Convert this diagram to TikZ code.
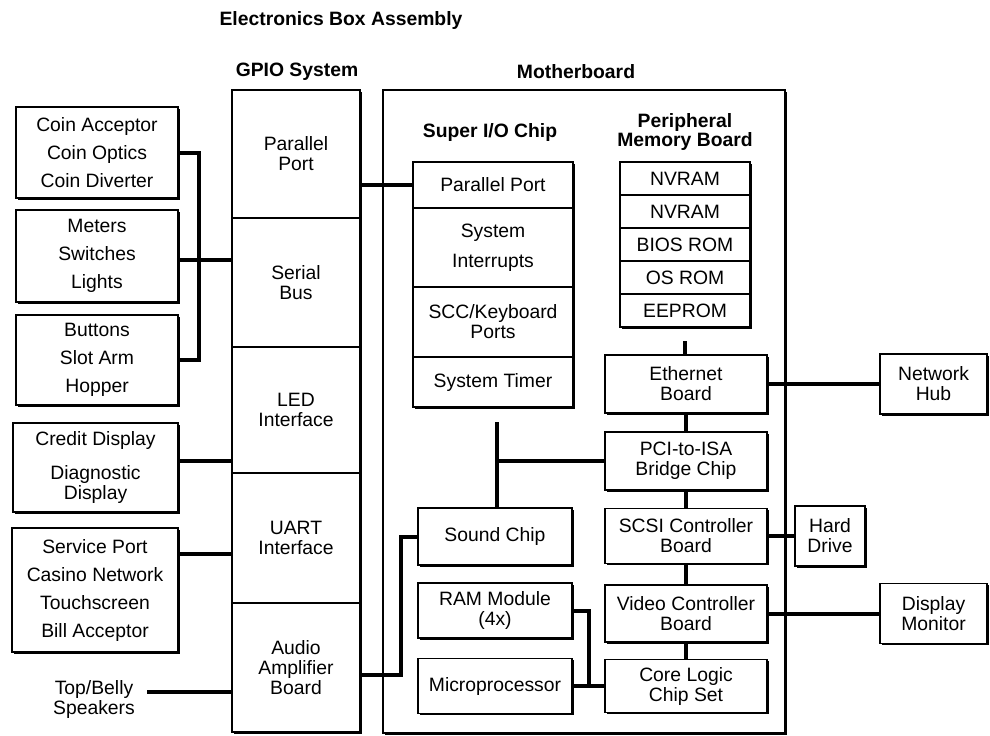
\documentclass[tikz,border=0pt]{standalone}
\usepackage{fontspec}
\setmainfont{Liberation Sans}
\usetikzlibrary{shadows,calc}
\newcommand\mytight{\fontsize{14.5}{15}\selectfont}
\newcommand\mylist{\fontsize{14.5}{21}\selectfont}
\newcommand\mybold{\fontsize{14.5}{14}\selectfont\bfseries}
\begin{document}
\begin{tikzpicture}[x=0.75pt,y=-0.75pt,
  box/.style={draw, line width=1.2pt, fill=white, inner sep=0pt, align=center, font=\mytight,
    drop shadow={shadow xshift=1.3pt, shadow yshift=-1.3pt, fill=black, opacity=1}},
  wh/.style 2 args={minimum width=#1*0.75pt, minimum height=#2*0.75pt},
  list/.style={font=\mylist},
  tit/.style={align=center, font=\mybold, inner sep=0pt},
  txt/.style={align=center, font=\mytight, inner sep=0pt},
  conn/.style={line width=3pt}]
\useasboundingbox (0,0) rectangle (990,736);

% titles
\node[tit] (title) at (341,20) {Electronics Box Assembly};
\node[tit] (gpiol) at (297,72) {GPIO System};
\node[tit] (mbl) at (576,72) {Motherboard};

% motherboard frame
\node[box, wh={402}{643}] (mb) at (584,411.5) {};

% left devices
\node[box, list, wh={162}{91}] (coin) at (97,152.5) {Coin Acceptor\\Coin Optics\\Coin Diverter};
\node[box, list, wh={162}{92}] (meters) at (97,256) {Meters\\Switches\\Lights};
\node[box, list, wh={162}{90}] (buttons) at (97,360) {Buttons\\Slot Arm\\Hopper};
\node[box, wh={165}{89}] (credit) at (95.5,467.5) {Credit Display\\[11pt]Diagnostic\\Display};
\node[box, list, wh={166}{124}] (service) at (95,590) {Service Port\\Casino Network\\Touchscreen\\Bill Acceptor};
\node[txt] (spk) at (94,699) {Top/Belly\\Speakers};

% connectors (drawn before boxes)
\draw[conn] (coin.east) -- ++(20,0) |- (buttons.east);
\coordinate (mj) at ([yshift=-3pt]meters.east);
\coordinate (cr) at ([yshift=5pt]credit.east);
\coordinate (sv) at ([yshift=27pt]service.east);
\coordinate (spkl) at (147,692);

% GPIO column
\node[box, wh={128}{128}] (gpp) at (296,154) {Parallel\\Port};
\node[box, wh={128}{129}] (gser) at (296,282.5) {Serial\\Bus};
\node[box, wh={128}{126}] (gled) at (296,410) {LED\\Interface};
\node[box, wh={128}{130}] (guart) at (296,538) {UART\\Interface};
\node[box, wh={128}{129}] (gaud) at (296,667.5) {Audio\\Amplifier\\Board};

\draw[conn] (mj) -- (mj -| gser.west);
\draw[conn] (cr) -- (cr -| gled.west);
\draw[conn] (sv) -- (sv -| guart.west);
\draw[conn] (spkl) -- (spkl -| gaud.west);

% Super I/O chip
\node[tit] (siol) at (490,132) {Super I/O Chip};
\node[box, wh={160}{46}] (spp) at (493,185) {Parallel Port};
\node[box, wh={160}{79}] (sint) at (493,247.5) {System\\[7.5pt]Interrupts};
\node[box, wh={160}{70}] (sscc) at (493,322) {SCC/Keyboard\\Ports};
\node[box, wh={160}{50}] (stim) at (493,382) {System Timer};
\draw[conn] (spp.west) -- (spp.west -| gpp.east);

% Peripheral memory board
\node[tit] (pmbl) at (685,132) {Peripheral\\Memory Board};
\node[box, wh={130}{33}] (nv1) at (685,178.5) {NVRAM};
\node[box, wh={130}{33}] (nv2) at (685,211.5) {NVRAM};
\node[box, wh={130}{33}] (bios) at (685,244.5) {BIOS ROM};
\node[box, wh={130}{33}] (osrom) at (685,277.5) {OS ROM};
\node[box, wh={130}{33}] (ee) at (685,310.5) {EEPROM};

% bus chain
\node[box, wh={162}{58}] (eth) at (686,384) {Ethernet\\Board};
\node[box, wh={162}{58}] (pci) at (686,461) {PCI-to-ISA\\Bridge Chip};
\node[box, wh={162}{55}] (scsi) at (686,536) {SCSI Controller\\Board};
\node[box, wh={162}{57}] (video) at (686,613.5) {Video Controller\\Board};
\node[box, wh={162}{53}] (core) at (686,686) {Core Logic\\Chip Set};

\coordinate (memgap) at ([yshift=-10pt]ee.south);
\draw[conn] (memgap) -- (memgap |- eth.north);
\draw[conn] (eth.south) -- (pci.north);
\draw[conn] (pci.south) -- (scsi.north);
\draw[conn] (scsi.south) -- (video.north);
\draw[conn] (video.south) -- (core.north);

% lower left of motherboard
\node[box, wh={154}{57}] (sound) at (495,536.5) {Sound Chip};
\node[box, wh={154}{55}] (ram) at (495,610.5) {RAM Module\\(4x)};
\node[box, wh={154}{55}] (micro) at (495,686) {Microprocessor};

\coordinate (bustop) at (497,422);
\draw[conn] (bustop) -- (bustop |- sound.north);
\draw[conn] (pci.west) -- (pci.west -| bustop);
\coordinate (aj) at ([yshift=-5.6pt]gaud.east);
\draw[conn] (sound.west) -- ++(-16,0) |- (aj);
\draw[conn] (ram.east) -- ++(16,0) |- (core.west);
\draw[conn] (micro.east) -- (core.west);

% right devices
\node[box, wh={107}{60}] (hub) at (933.5,384) {Network\\Hub};
\node[box, wh={70}{60}] (hdd) at (830,536) {Hard\\Drive};
\node[box, wh={107}{60}] (disp) at (933.5,613.5) {Display\\Monitor};
\draw[conn] (eth.east) -- (hub.west);
\draw[conn] (scsi.east) -- (hdd.west);
\draw[conn] (video.east) -- (disp.west);
\end{tikzpicture}
\end{document}
